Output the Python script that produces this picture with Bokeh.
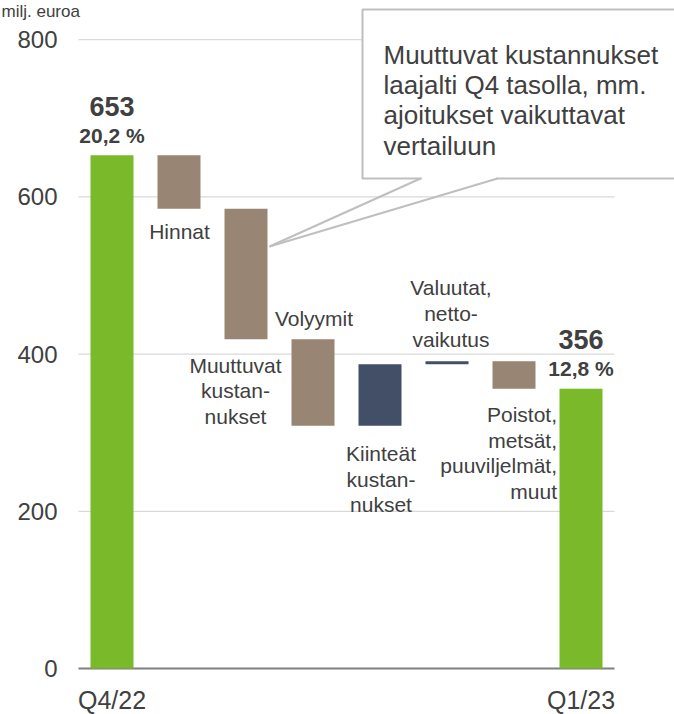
from bokeh.plotting import figure
from bokeh.models import Range1d
from bokeh.embed import file_html
from bokeh.resources import INLINE
from bokeh.core.properties import value

# ---------------- data ----------------
categories = ["Q4/22", "Hinnat", "Muuttuvat kustannukset", "Volyymit",
              "Kiinteät kustannukset", "Valuutat, nettovaikutus",
              "Poistot, metsät, puuviljelmät, muut", "Q1/23"]
start_value = 653
changes = [-68, -166, -110, 78, 4, -35]
end_value = 356
start_margin = "20,2 %"
end_margin = "12,8 %"
step_labels = ["Hinnat", "Muuttuvat\nkustan-\nnukset", "Volyymit",
               "Kiinteät\nkustan-\nnukset", "Valuutat,\nnetto-\nvaikutus",
               "Poistot,\nmetsät,\npuuviljelmät,\nmuut"]
y_ticks = [0, 200, 400, 600, 800]
x_tick_labels = ["Q4/22", "Q1/23"]
callout_lines = ["Muuttuvat kustannukset", "laajalti Q4 tasolla, mm.",
                 "ajoitukset vaikuttavat", "vertailuun"]
unit_label = "milj. euroa"

# ---------------- styles ----------------
FONT = "Liberation Sans"
TXT = "#404040"
GREEN = "#7AB929"
BROWN = "#988573"
BLUE = "#434F66"
GRID = "#D9D9D9"

W, H = 674, 714
X_ORIGIN = 111.5     # screen x of first category
Y_ORIGIN = 668.0     # screen y of value 0
PX_X = 67.0          # px per category
PX_Y = 0.786         # px per unit

def sx(px):          # screen x -> data x
    return (px - X_ORIGIN) / PX_X

def sy(py):          # screen y -> data y
    return (Y_ORIGIN - py) / PX_Y

def dy(px):
    return px / PX_Y

def dx(px):
    return px / PX_X

# ---------------- waterfall geometry ----------------
levels = [start_value]
for c in changes:
    levels.append(levels[-1] + c)

n = len(categories)
xs = list(range(n))
bottoms = [0] + [min(levels[i], levels[i + 1]) for i in range(len(changes))] + [0]
tops = [start_value] + [max(levels[i], levels[i + 1]) for i in range(len(changes))] + [end_value]
colors = [GREEN] + [BROWN if c < 0 else BLUE for c in changes] + [GREEN]

p = figure(width=W, height=H, x_range=Range1d(sx(0), sx(W)), y_range=Range1d(sy(H), sy(0)),
           output_backend="svg", toolbar_location=None, x_axis_location=None,
           y_axis_location=None, min_border_left=0, min_border_right=0,
           min_border_top=0, min_border_bottom=0, outline_line_color=None)
p.background_fill_color = "white"
p.border_fill_color = "white"
p.grid.visible = False

# gridlines and zero line
gx0, gx1 = -0.5, n - 0.5
p.segment(x0=[gx0] * 4, x1=[gx1] * 4, y0=y_ticks[1:], y1=y_ticks[1:],
          line_color=GRID, line_width=1.2)
p.segment(x0=[gx0], x1=[gx1], y0=[0], y1=[0], line_color="#7F7F7F", line_width=2)

# y tick labels
p.text(x=[sx(57)] * len(y_ticks), y=y_ticks, text=[str(t) for t in y_ticks],
       text_font=value(FONT), text_font_size="24px", text_color=TXT,
       text_align="right", text_baseline="middle")

# bars
bw = 43 / PX_X
p.vbar(x=xs, width=bw, bottom=bottoms, top=tops, fill_color=colors, line_color=None)

# callout box
box_l, box_top, box_bot = sx(362), sy(9), sy(178)
att1, att2 = sx(420), sx(497)
tip_x, tip_y = sx(269), sy(246)
p.quad(left=[box_l], right=[sx(W) + 2], top=[box_top], bottom=[box_bot],
       fill_color="white", line_color="#BFBFBF", line_width=2)
p.quad(left=[att1 + 0.02], right=[att2 - 0.02], top=[box_bot + dy(1.6)],
       bottom=[box_bot - dy(1.6)], fill_color="white", line_color=None)
p.segment(x0=[att1, att2], y0=[box_bot, box_bot], x1=[tip_x, tip_x], y1=[tip_y, tip_y],
          line_color="#BFBFBF", line_width=2)

for i, line in enumerate(callout_lines):
    p.text(x=[sx(383)], y=[sy(54 + i * 30.4)], text=[line], text_font=value(FONT),
           text_font_size="26px", text_color=TXT, text_align="left",
           text_baseline="middle")

# step labels: (anchor, px offset of first/last line, dx px, align)
spec = [("below", 23, 0.5, "center"),
        ("below", 26, -10.5, "center"),
        ("above", 21, 1, "center"),
        ("below", 28, 1, "center"),
        ("above", 22, 4, "center"),
        ("below", 26, 43, "right")]
LS = 25.6
for k, (lab, (anchor, off, ddx, align)) in enumerate(zip(step_labels, spec)):
    i = k + 1
    lines = lab.split("\n")
    for j, line in enumerate(lines):
        if anchor == "below":
            yy = bottoms[i] - dy(off + j * LS)
        else:
            yy = tops[i] + dy(off + (len(lines) - 1 - j) * LS)
        p.text(x=[i + dx(ddx)], y=[yy], text=[line], text_font=value(FONT),
               text_font_size="21px", text_color=TXT, text_align=align,
               text_baseline="middle")

# totals
for i, val, marg in [(0, start_value, start_margin), (n - 1, end_value, end_margin)]:
    p.text(x=[i], y=[tops[i] + dy(49)], text=[str(val)], text_font=value(FONT),
           text_font_size="27px", text_font_style="bold", text_color=TXT,
           text_align="center", text_baseline="middle")
    p.text(x=[i], y=[tops[i] + dy(20)], text=[marg], text_font=value(FONT),
           text_font_size="21px", text_font_style="bold", text_color=TXT,
           text_align="center", text_baseline="middle")

# x labels
p.text(x=[0, n - 1], y=[-dy(31)] * 2, text=x_tick_labels, text_font=value(FONT),
       text_font_size="25px", text_color=TXT, text_align="center",
       text_baseline="middle")

# unit label at the top-left corner
p.text(x=[sx(1)], y=[sy(1)], text=[unit_label], text_font=value(FONT),
       text_font_size="17px", text_color=TXT, text_align="left",
       text_baseline="top")

open("out.html", "w").write(file_html(p, INLINE))
